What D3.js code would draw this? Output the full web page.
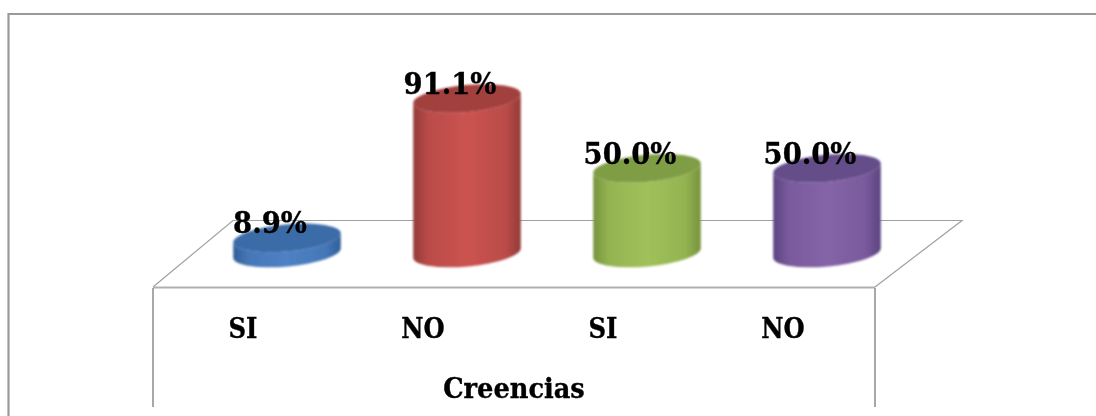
<!DOCTYPE html>
<html>
<head>
<meta charset="utf-8">
<style>
html,body{margin:0;padding:0;background:#fff;}
svg{display:block;}
text{font-family:"DejaVu Serif",serif;font-stretch:condensed;font-weight:bold;fill:#000;stroke:#000;stroke-width:0.35px;}
</style>
<script src="https://cdn.jsdelivr.net/npm/d3@7"></script>
</head>
<body>
<svg id="chart" width="1096" height="416"></svg>
<script>
// Share of answers per category, with the group name below the floor
const categories = ["SI", "NO", "SI ", "NO "];
const values = [8.9, 91.1, 50.0, 50.0];
const groupLabel = "Creencias";
const sideColors = ["#4f81c4", "#cb5350", "#a0c15a", "#8564a8"];
const edgeColors = ["#2f5f98", "#933a38", "#76933c", "#5c4380"];
const capColors = ["#3a6ca8", "#a23f3d", "#7f9d45", "#654d8a"];

const svg = d3.select("#chart");

// Height of a cylinder: 0 % sits on the floor, 100 % near the top of the frame
const y = d3.scaleLinear().domain([0, 100]).range([253, 83.4]);
const x = d3.scaleBand().domain(categories).range([197, 917]);

const rx = 54, ry = 13.5, tilt = -5.2;
const rad = tilt * Math.PI / 180;
const dx = rx * Math.cos(rad), dy = rx * Math.sin(rad);
const centre = i => x(categories[i]) + x.bandwidth() / 2;

const defs = svg.append("defs");
defs.append("filter").attr("id", "soft").attr("x", "-10%").attr("y", "-10%")
  .attr("width", "120%").attr("height", "120%")
  .append("feGaussianBlur").attr("stdDeviation", 0.9);

categories.forEach((c, i) => {
  const g = defs.append("linearGradient").attr("id", "side" + i);
  [[0, edgeColors[i]], [0.14, d3.interpolateRgb(edgeColors[i], sideColors[i])(0.7)], [0.5, sideColors[i]],
   [0.86, d3.interpolateRgb(edgeColors[i], sideColors[i])(0.7)], [1, edgeColors[i]]]
    .forEach(s => g.append("stop").attr("offset", s[0]).attr("stop-color", s[1]));
});

// Outer frame, open along the bottom and right edges
svg.append("path")
  .attr("d", "M8.5,416V14H1096")
  .attr("fill", "none").attr("stroke", "#9a9a9a").attr("stroke-width", 2.2);

// Floor plane and axis box
svg.append("path")
  .attr("d", "M153,287L233,220.5H962L875,287")
  .attr("fill", "none").attr("stroke", "#a0a0a0").attr("stroke-width", 1.2);
svg.append("path")
  .attr("d", "M153,287.5H875")
  .attr("fill", "none").attr("stroke", "#b0b0b0").attr("stroke-width", 2);
svg.append("path")
  .attr("d", "M153,288V407M875,288V407")
  .attr("fill", "none").attr("stroke", "#8c8c8c").attr("stroke-width", 1.5);

// Cylinders
const bars = svg.append("g").attr("filter", "url(#soft)")
  .selectAll("g").data(values).join("g");

bars.append("path")
  .attr("fill", (d, i) => `url(#side${i})`)
  .attr("d", (d, i) => {
    const cx = centre(i), yb = y(0), yt = y(d);
    return `M${cx - dx},${yt - dy}L${cx - dx},${yb - dy}` +
      `A${rx},${ry} ${tilt} 0 0 ${cx + dx},${yb + dy}` +
      `L${cx + dx},${yt + dy}` +
      `A${rx},${ry} ${tilt} 0 1 ${cx - dx},${yt - dy}Z`;
  });

bars.append("ellipse")
  .attr("rx", rx).attr("ry", ry)
  .attr("fill", (d, i) => capColors[i])
  .attr("transform", (d, i) => `translate(${centre(i)},${y(d)}) rotate(${tilt})`);

// Value labels straddling the top of each cylinder
svg.append("g").selectAll("text").data(values).join("text")
  .attr("x", (d, i) => centre(i) - 17)
  .attr("y", d => y(d) - 4.5)
  .attr("text-anchor", "middle")
  .attr("font-size", 30.5)
  .text(d => d.toFixed(1) + "%");

// Category labels
svg.append("g").selectAll("text").data(categories).join("text")
  .attr("x", (d, i) => centre(i) - 44)
  .attr("y", 338)
  .attr("text-anchor", "middle")
  .attr("font-size", 27)
  .text(d => d.trim());

svg.append("text")
  .attr("x", 514).attr("y", 398)
  .attr("text-anchor", "middle")
  .attr("font-size", 28.5)
  .text(groupLabel);
</script>
</body>
</html>
